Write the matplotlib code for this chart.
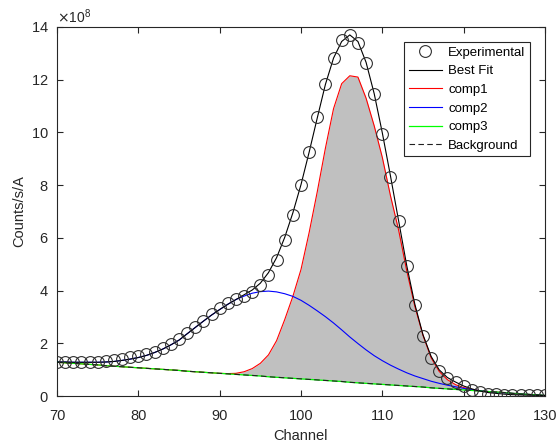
import numpy as np
import matplotlib
matplotlib.use("Agg")
import matplotlib.pyplot as plt

plt.rcParams['font.family'] = ['Liberation Sans', 'DejaVu Sans']

SCALE = 1e8
channels = list(range(70, 131))

experimental = [1.30, 1.30, 1.30, 1.30, 1.30, 1.30, 1.33, 1.37, 1.42, 1.47,
                1.52, 1.58, 1.68, 1.81, 1.97, 2.16, 2.38, 2.61, 2.86, 3.10,
                3.33, 3.52, 3.67, 3.80, 3.94, 4.21, 4.59, 5.15, 5.92, 6.87,
                8.01, 9.24, 10.58, 11.84, 12.84, 13.49, 13.70, 13.41, 12.63, 11.46,
                9.93, 8.30, 6.63, 4.93, 3.45, 2.27, 1.43, 0.93, 0.70, 0.52,
                0.37, 0.24, 0.15, 0.09, 0.07, 0.05, 0.04, 0.03, 0.03, 0.03,
                0.02]

best_fit = [1.29, 1.29, 1.28, 1.28, 1.28, 1.28, 1.29, 1.31, 1.35, 1.40,
            1.46, 1.54, 1.65, 1.78, 1.94, 2.12, 2.36, 2.60, 2.84, 3.07,
            3.28, 3.48, 3.66, 3.84, 4.02, 4.28, 4.68, 5.25, 6.02, 6.95,
            8.02, 9.25, 10.55, 11.82, 12.82, 13.45, 13.70, 13.45, 12.66, 11.47,
            9.98, 8.35, 6.65, 4.95, 3.48, 2.32, 1.50, 0.99, 0.70, 0.53,
            0.38, 0.27, 0.19, 0.13, 0.10, 0.07, 0.05, 0.04, 0.03, 0.03,
            0.02]

background = [1.28, 1.26, 1.24, 1.22, 1.20, 1.18, 1.15, 1.13, 1.11, 1.09,
              1.07, 1.05, 1.03, 1.01, 0.99, 0.97, 0.94, 0.92, 0.90, 0.88,
              0.86, 0.84, 0.82, 0.80, 0.78, 0.76, 0.73, 0.71, 0.69, 0.67,
              0.65, 0.63, 0.61, 0.59, 0.57, 0.55, 0.52, 0.50, 0.48, 0.46,
              0.44, 0.42, 0.40, 0.38, 0.36, 0.34, 0.31, 0.29, 0.27, 0.25,
              0.23, 0.21, 0.19, 0.17, 0.15, 0.13, 0.10, 0.08, 0.06, 0.04,
              0.02]

comp1 = [1.28, 1.26, 1.24, 1.22, 1.20, 1.18, 1.15, 1.13, 1.11, 1.09,
         1.07, 1.05, 1.03, 1.01, 0.99, 0.97, 0.94, 0.92, 0.90, 0.88,
         0.86, 0.85, 0.86, 0.92, 1.04, 1.24, 1.56, 2.10, 2.90, 3.78,
         4.80, 6.20, 7.75, 9.40, 10.90, 11.85, 12.15, 12.10, 11.30, 10.25,
         9.05, 7.60, 6.30, 4.75, 3.40, 2.30, 1.45, 0.93, 0.62, 0.43,
         0.32, 0.25, 0.20, 0.17, 0.15, 0.13, 0.10, 0.08, 0.06, 0.04,
         0.02]

comp2 = [1.29, 1.29, 1.28, 1.28, 1.28, 1.28, 1.29, 1.31, 1.35, 1.40,
         1.46, 1.54, 1.65, 1.78, 1.94, 2.12, 2.36, 2.60, 2.84, 3.07,
         3.28, 3.48, 3.66, 3.79, 3.90, 3.96, 3.98, 3.95, 3.88, 3.78,
         3.63, 3.44, 3.23, 3.01, 2.77, 2.51, 2.24, 1.99, 1.75, 1.53,
         1.34, 1.17, 1.02, 0.88, 0.76, 0.66, 0.56, 0.48, 0.41, 0.35,
         0.29, 0.24, 0.20, 0.17, 0.14, 0.12, 0.10, 0.08, 0.06, 0.04,
         0.02]

comp3 = list(background)

x = np.array(channels)
s = lambda a: np.array(a) * SCALE

fig = plt.figure(figsize=(5.56, 4.44), dpi=100)
ax = fig.add_axes([57/556, 1-396/444, (545-57)/556, (396-27)/444])

ax.fill_between(x, s(background), s(comp1), color='#c0c0c0', linewidth=0, zorder=1)
ax.plot(x, s(experimental), 'o', mfc='none', mec='#303030', mew=0.8, ms=8.5,
        label='Experimental', zorder=6)
ax.plot(x, s(best_fit), '-', color='black', lw=0.8, label='Best Fit', zorder=5)
ax.plot(x, s(comp1), '-', color='#ff0000', lw=0.8, label='comp1', zorder=2)
ax.plot(x, s(comp2), '-', color='#0000ff', lw=0.8, label='comp2', zorder=3)
ax.plot(x, s(comp3), '-', color='#00ff00', lw=0.9, label='comp3', zorder=3)
ax.plot(x, s(background), '--', color='#202020', lw=0.8, dashes=(5, 3),
        label='Background', zorder=4)

ax.set_xlim(70, 130)
ax.set_ylim(0, 14e8)
ax.set_xticks(range(70, 131, 10))
ax.set_yticks(np.arange(0, 15, 2) * SCALE)
ax.ticklabel_format(axis='y', style='sci', scilimits=(8, 8), useMathText=True)
ax.yaxis.get_offset_text().set_fontsize(10)
ax.yaxis.get_offset_text().set_color('#262626')

gc = '#262626'
for sp in ax.spines.values():
    sp.set_color(gc)
    sp.set_linewidth(0.8)
ax.tick_params(direction='in', length=4, width=0.8, colors=gc, labelsize=10.5,
               top=True, right=True, labelcolor=gc)
ax.tick_params(axis='x', pad=9)
ax.tick_params(axis='y', pad=6)

ax.set_xlabel('Channel', fontsize=10.5, color=gc, labelpad=5)
ax.set_ylabel('Counts/s/A', fontsize=10.5, color=gc, labelpad=3)

leg = ax.legend(loc='upper right', bbox_to_anchor=((530-57)/488, (396-42)/369),
                bbox_transform=ax.transAxes, borderaxespad=0,
                fontsize=9.5, frameon=True, fancybox=False, edgecolor='#262626',
                framealpha=1, handlelength=2.5, labelspacing=0.48,
                handletextpad=0.5, borderpad=0.35)
leg.get_frame().set_linewidth(0.8)

fig.savefig('out.png', dpi=100)
